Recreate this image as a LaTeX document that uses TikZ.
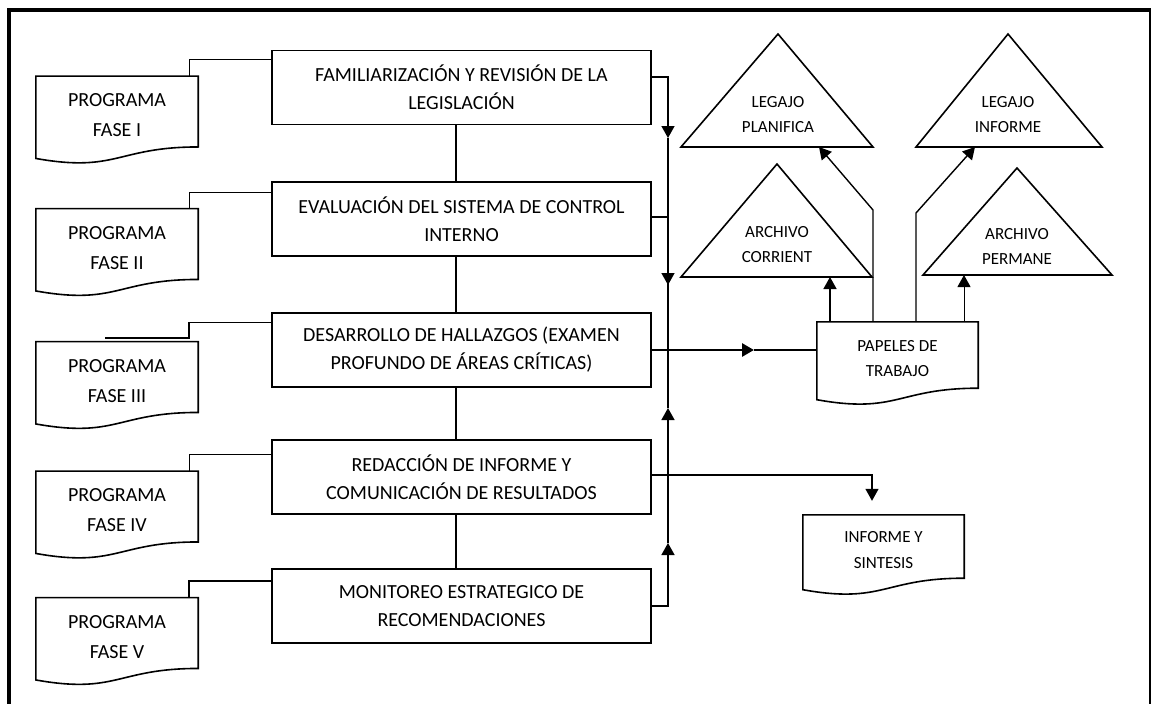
\documentclass[tikz,border=0pt]{standalone}
\usepackage{fontspec}
\setmainfont{Carlito}
\usetikzlibrary{arrows.meta,calc}

\tikzset{
  proceso/.style={draw, line width=1.6pt, minimum width=379pt, minimum height=74pt,
    inner sep=0pt, align=center, font=\fontsize{20}{28}\selectfont},
  programa/.style={minimum width=162pt, minimum height=70.5pt, inner sep=0pt,
    align=center, font=\fontsize{20}{30}\selectfont},
  hojader/.style={inner sep=0pt, align=center, font=\fontsize{17}{25.5}\selectfont},
  tritexto/.style={inner sep=0pt, align=center, font=\fontsize{17}{25}\selectfont},
  borde/.style={line width=1.6pt, line join=miter},
  conector/.style={line width=1.4pt},
  grueso/.style={line width=2.8pt},
  flecha/.style={-{Triangle[length=12pt,width=13pt]}}
}

% contorno de documento con borde ondulado
\newcommand{\hoja}[1]{%
  \draw[borde] ($(#1.south west)+(0,11.5)$) -- (#1.north west) -- (#1.north east)
    -- (#1.south east) .. controls (#1.south) and ($(#1.south)+(0,26)$)
    .. ($(#1.south west)+(0,11.5)$) -- cycle;}

\begin{document}
\begin{tikzpicture}[x=1pt,y=-1pt]
  \useasboundingbox (0,0) rectangle (1152,704);
  % marco
  \draw[line width=4pt] (9,712) -- (9,10) -- (1151,10);
  \draw[line width=2pt] (1150,10) -- (1150,712);

  % fases
  \node[proceso] (b1) at (461.5,87.5) {FAMILIARIZACIÓN Y REVISIÓN DE LA\\LEGISLACIÓN};
  \node[proceso] (b2) at (461.5,219) {EVALUACIÓN DEL SISTEMA DE CONTROL\\INTERNO};
  \node[proceso] (b3) at (461.5,350) {DESARROLLO DE HALLAZGOS (EXAMEN\\PROFUNDO DE ÁREAS CRÍTICAS)};
  \node[proceso] (b4) at (461.5,477) {REDACCIÓN DE INFORME Y\\COMUNICACIÓN DE RESULTADOS};
  \node[proceso] (b5) at (461.5,606) {MONITOREO ESTRATEGICO DE\\RECOMENDACIONES};

  \foreach \a/\b in {b1/b2,b2/b3,b3/b4,b4/b5}
    \draw[conector] ([xshift=-5.5]\a.south) -- ([xshift=-5.5]\b.north);

  % programas
  \foreach \i/\y/\r in {1/111.5/I,2/244/II,3/377/III,4/506.5/IV,5/633/V}{
    \node[programa] (p\i) at (117,\y) {\strut PROGRAMA\\FASE \r};
    \hoja{p\i}
  }
  \coordinate (c3) at (189,338);
  \coordinate (c3b) at (105,338);
  \draw[conector] ([yshift=-10]b1.north west) -| ([xshift=-9]p1.north east);
  \draw[conector] ([yshift=-11]b2.north west) -| ([xshift=-9]p2.north east);
  \draw[conector] ([yshift=-10]b3.north west) -| (c3) -- (c3b);
  \draw[conector] ([yshift=-15]b4.north west) -| ([xshift=-9]p4.north east);
  \draw[line width=2pt] ([yshift=-13]b5.north west) -| ([xshift=-9]p5.north east);

  % linea vertical de la derecha
  \coordinate (t1) at (668,138);
  \coordinate (t2) at (668,285);
  \coordinate (t3) at (668,408);
  \coordinate (t4) at (668,543);
  \draw[conector,flecha] ([yshift=10.5]b1.east) -| (t1);
  \draw[conector] (t1) -- (t2);
  \draw[conector,flecha] ([yshift=2]b2.east) -| (t2);
  \draw[conector] (t2) -- (b3.east -| t2);
  \draw[conector,flecha] (b5.east) -| (t4);
  \draw[conector] (t4) -- (b4.east -| t4);
  \draw[conector,flecha] (b4.east -| t3) -- (t3);
  \draw[conector] (t3) -- (b3.east -| t3);

  % papeles de trabajo e informe
  \node[hojader, minimum width=161pt, minimum height=66pt] (pt) at (897.5,355) {\strut PAPELES DE\\TRABAJO};
  \hoja{pt}
  \node[hojader, minimum width=161pt, minimum height=63pt] (inf) at (883.5,546.5) {\strut INFORME Y\\SINTESIS};
  \hoja{inf}

  \coordinate (m3) at (754,350);
  \draw[grueso,flecha] (b3.east) -- (m3);
  \draw[grueso] (m3) -- (b3.east -| pt.west);
  \draw[conector,flecha] ([yshift=2]b4.east) -| ([xshift=-11.5,yshift=14]inf.north);

  % legajos y archivos
  \foreach \n/\ax/\ay/\bl/\br/\by in {lp/778/34/681/873/147, li/1008/34/916/1102/147,
      ac/777/164/681/872/277, ap/1017/168/923/1112/275}{
    \coordinate (\n-a) at (\ax,\ay);
    \coordinate (\n-l) at (\bl,\by);
    \coordinate (\n-r) at (\br,\by);
    \draw[borde] (\n-a) -- (\n-l) -- (\n-r) -- cycle;
  }
  \node[tritexto] (lp) at (778,115) {LEGAJO\\PLANIFICA};
  \node[tritexto] (li) at (1008,115) {LEGAJO\\INFORME};
  \node[tritexto] (ac) at (777,245) {ARCHIVO\\CORRIENT};
  \node[tritexto] (ap) at (1017,246) {ARCHIVO\\PERMANE};

  \coordinate (q1) at (873,210);
  \coordinate (q2) at (916,213);
  \coordinate (lp-p) at (819,147);
  \coordinate (li-p) at (975,147);
  \draw[conector,flecha] ([xshift=-67.5]pt.north) -- ([xshift=-67.5]pt.north |- ac-l);
  \draw[conector,flecha] (pt.north -| q1) -- (q1) -- (lp-p);
  \draw[conector,flecha] (pt.north -| q2) -- (q2) -- (li-p);
  \draw[line width=1pt,flecha] ([xshift=66.5]pt.north) -- ([xshift=66.5]pt.north |- ap-l);
\end{tikzpicture}
\end{document}
